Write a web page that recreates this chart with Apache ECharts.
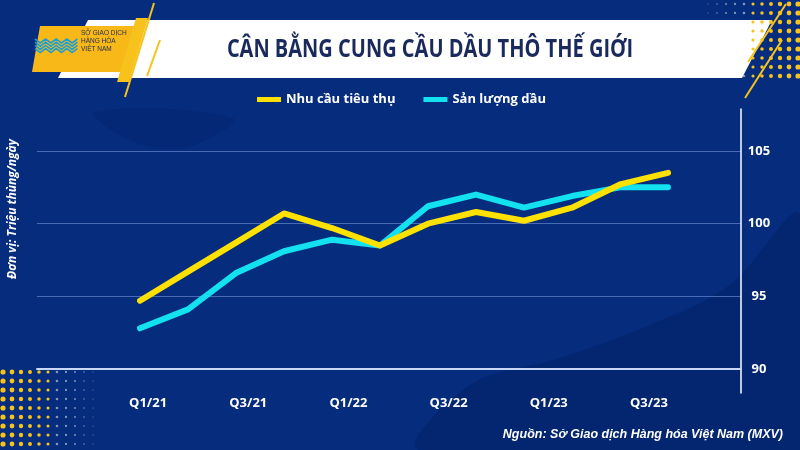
<!DOCTYPE html>
<html>
<head>
    <meta charset="utf-8"/>
    <title>Cân bằng cung cầu dầu thô thế giới</title>
    <style>
        html, body { margin: 0; padding: 0; background: #052c7d; }
        #main { width: 800px; height: 450px; }
    </style>
</head>
<body>
<script type="text/javascript" src="https://cdn.jsdelivr.net/npm/echarts@6/dist/echarts.min.js"></script>

<div id="main"></div>

<script type="text/javascript">
    // quarters on the data axis
    var quarters = ['Q1/21', 'Q2/21', 'Q3/21', 'Q4/21', 'Q1/22', 'Q2/22', 'Q3/22', 'Q4/22', 'Q1/23', 'Q2/23', 'Q3/23', 'Q4/23'];
    // Nhu cầu tiêu thụ (triệu thùng/ngày)
    var demand = [94.7, 96.7, 98.7, 100.7, 99.7, 98.5, 100.0, 100.8, 100.2, 101.1, 102.7, 103.5];
    // Sản lượng dầu (triệu thùng/ngày)
    var supply = [92.8, 94.1, 96.6, 98.1, 98.9, 98.5, 101.2, 102.0, 101.1, 101.9, 102.5, 102.5];
    // labels printed under the chart
    var tickLabels = ['Q1/21', 'Q3/21', 'Q1/22', 'Q3/22', 'Q1/23', 'Q3/23'];

    var yMin = 90, yMax = 105, yStep = 5;

    var labelFont = "'Open Sans', 'DejaVu Sans', sans-serif";

    var myChart = echarts.init(document.getElementById('main'));

    // decorative dots in the corners
    function dots(x0, y0, cols, rows, rightBig) {
        var out = [];
        for (var i = 0; i < cols; i++) {
            for (var j = 0; j < rows; j++) {
                var k = rightBig ? i / (cols - 1) : 1 - i / (cols - 1);
                var r = 0.5 + 2.1 * k;
                out.push({
                    type: 'circle',
                    silent: true,
                    shape: { cx: x0 + i * 9, cy: y0 + j * 9, r: r },
                    style: { fill: k > 0.45 ? '#f7c21b' : 'rgba(255,255,255,0.5)' }
                });
            }
        }
        return out;
    }

    // chevron mark of the logo
    function logoMark() {
        var out = [];
        for (var k = 0; k < 4; k++) {
            var pts = [];
            for (var s = 0; s <= 8; s++) {
                pts.push([35 + s * 5.3, 39 + k * 3.2 + (s % 2 === 0 ? 0 : 4)]);
            }
            out.push({
                type: 'polyline',
                silent: true,
                shape: { points: pts },
                style: { stroke: '#1a9fd6', lineWidth: 1.6, fill: null }
            });
        }
        return out;
    }

    var graphics = [
        // darker waves in the background
        {
            type: 'polygon', silent: true, z: -10,
            shape: { points: [[420, 450], [470, 385], [560, 358], [650, 325], [730, 285], [800, 215], [800, 450]], smooth: 0.35 },
            style: { fill: '#04236b', opacity: 0.7 }
        },
        {
            type: 'polygon', silent: true, z: -10,
            shape: { points: [[95, 112], [135, 142], [190, 146], [232, 118]], smooth: 0.4 },
            style: { fill: '#04246c', opacity: 0.45 }
        },
        // title banner
        {
            type: 'polygon', silent: true,
            shape: { points: [[88, 20], [772, 20], [742, 78], [58, 78]] },
            style: { fill: '#ffffff' }
        },
        {
            type: 'text', silent: true,
            x: 430, y: 50, scaleX: 0.8,
            style: {
                x: 0, y: 0,
                text: 'CÂN BẰNG CUNG CẦU DẦU THÔ THẾ GIỚI',
                fill: '#1b2a5c',
                font: "bold 25px 'Open Sans', sans-serif",
                textAlign: 'center', textVerticalAlign: 'middle'
            }
        },
        // logo block
        {
            type: 'polygon', silent: true,
            shape: { points: [[40, 26], [134, 26], [126, 72], [32, 72]] },
            style: { fill: '#f8b818' }
        },
        {
            type: 'text', silent: true,
            style: {
                x: 81, y: 29,
                text: 'SỞ GIAO DỊCH\nHÀNG HÓA\nVIỆT NAM',
                fill: '#1d2b55',
                font: "6.5px 'Liberation Sans', sans-serif",
                lineHeight: 8
            }
        },
        // yellow accents
        {
            type: 'polygon', silent: true,
            shape: { points: [[136, 18], [148, 18], [129, 82], [117, 82]] },
            style: { fill: '#f7c21b' }
        },
        {
            type: 'line', silent: true,
            shape: { x1: 154, y1: 3, x2: 125, y2: 97 },
            style: { stroke: '#f7c21b', lineWidth: 2 }
        },
        {
            type: 'line', silent: true,
            shape: { x1: 160, y1: 40, x2: 147, y2: 76 },
            style: { stroke: '#f7c21b', lineWidth: 2 }
        },
        {
            type: 'line', silent: true,
            shape: { x1: 786, y1: 4, x2: 748, y2: 62 },
            style: { stroke: '#f7c21b', lineWidth: 2 }
        },
        {
            type: 'line', silent: true,
            shape: { x1: 782, y1: 40, x2: 745, y2: 98 },
            style: { stroke: '#f7c21b', lineWidth: 2 }
        },
        // unit label
        {
            type: 'text', silent: true,
            x: 13, y: 209, rotation: Math.PI / 2,
            style: {
                x: 0, y: 0,
                text: 'Đơn vị: Triệu thùng/ngày',
                fill: '#ffffff',
                font: "italic bold 12px 'Open Sans', sans-serif",
                textAlign: 'center', textVerticalAlign: 'middle'
            }
        },
        // source
        {
            type: 'text', silent: true,
            style: {
                x: 783, y: 435,
                text: 'Nguồn: Sở Giao dịch Hàng hóa Việt Nam (MXV)',
                fill: '#ffffff',
                font: "italic bold 12.5px 'Liberation Sans', Arial, sans-serif",
                textAlign: 'right', textVerticalAlign: 'middle'
            }
        }
    ].concat(logoMark()).concat(dots(708, 4, 11, 9, true)).concat(dots(3, 372, 11, 9, false));

    var option = {
        backgroundColor: '#052c7d',
        animation: false,
        textStyle: { fontFamily: labelFont },
        graphic: graphics,
        legend: {
            data: ['Nhu cầu tiêu thụ', 'Sản lượng dầu'],
            left: 252,
            top: 88,
            icon: 'rect',
            itemWidth: 24,
            itemHeight: 5,
            itemGap: 28,
            textStyle: { color: '#ffffff', fontWeight: 'bold', fontSize: 13, fontFamily: labelFont }
        },
        grid: [
            // grid lines and value labels
            { left: 37, right: 59, top: 151, bottom: 81 },
            // lines
            { left: 140, right: 132, top: 151, bottom: 81 },
            // quarter labels
            { left: 98, right: 101, top: 151, bottom: 81 },
            // tall vertical axis line
            { left: 37, right: 59, top: 109, bottom: 57 }
        ],
        xAxis: [
            {
                gridIndex: 0, type: 'value', min: 0, max: 1,
                axisLine: { show: true, onZero: false, lineStyle: { color: '#c9d6f5', width: 2 } },
                axisTick: { show: false }, axisLabel: { show: false }, splitLine: { show: false }
            },
            {
                gridIndex: 1, type: 'category', data: quarters, boundaryGap: false, show: false
            },
            {
                gridIndex: 2, type: 'category', data: tickLabels, boundaryGap: true,
                axisLine: { show: false }, axisTick: { show: false },
                axisLabel: { color: '#ffffff', fontWeight: 'bold', fontSize: 13, margin: 28, fontFamily: labelFont }
            },
            {
                gridIndex: 3, type: 'value', min: 0, max: 1, show: false
            }
        ],
        yAxis: [
            {
                gridIndex: 0, type: 'value', position: 'right',
                min: yMin, max: yMax, interval: yStep,
                axisLine: { show: false }, axisTick: { show: false },
                axisLabel: { color: '#ffffff', fontWeight: 'bold', fontSize: 13, align: 'center', margin: 18, fontFamily: labelFont },
                splitLine: { lineStyle: { color: 'rgba(130,160,230,0.55)', width: 1 } }
            },
            {
                gridIndex: 1, type: 'value', min: yMin, max: yMax, show: false
            },
            {
                gridIndex: 2, type: 'value', min: yMin, max: yMax, show: false
            },
            {
                gridIndex: 3, type: 'value', position: 'right', min: 0, max: 1,
                axisLine: { show: true, onZero: false, lineStyle: { color: '#ffffff', width: 1.5 } },
                axisTick: { show: false }, axisLabel: { show: false }, splitLine: { show: false }
            }
        ],
        series: [
            {
                name: 'Sản lượng dầu',
                type: 'line',
                xAxisIndex: 1, yAxisIndex: 1,
                data: supply,
                symbol: 'none',
                itemStyle: { color: '#14e1ef' },
                lineStyle: { color: '#14e1ef', width: 6, cap: 'round', join: 'round' },
                z: 3
            },
            {
                name: 'Nhu cầu tiêu thụ',
                type: 'line',
                xAxisIndex: 1, yAxisIndex: 1,
                data: demand,
                symbol: 'none',
                itemStyle: { color: '#ffe100' },
                lineStyle: { color: '#ffe100', width: 6, cap: 'round', join: 'round' },
                z: 4
            }
        ]
    };

    myChart.setOption(option);
</script>
</body>
</html>
